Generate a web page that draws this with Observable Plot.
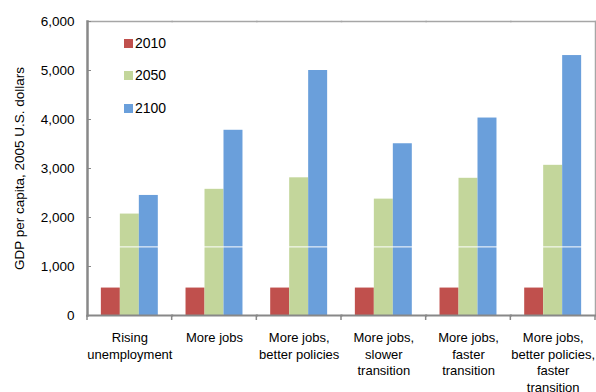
<!DOCTYPE html>
<html><head><meta charset="utf-8">
<script src="https://cdn.jsdelivr.net/npm/d3@7"></script>
<script src="https://cdn.jsdelivr.net/npm/@observablehq/plot@0.6"></script>
<style>
body{margin:0;background:#fff;font-family:"Liberation Sans",Arial,sans-serif;}
#wrap{position:relative;width:596px;height:392px;}
.leg{position:absolute;left:124px;font-size:14px;line-height:16px;color:#000;display:flex;align-items:center;}
.leg span.sw{display:inline-block;width:9px;height:9px;margin-right:2px;}
</style></head><body><div id="wrap"></div>
<script>
const scenarios = ["Rising\nunemployment","More jobs","More jobs,\nbetter policies","More jobs,\nslower\ntransition","More jobs,\nfaster\ntransition","More jobs,\nbetter policies,\nfaster\ntransition"];
const years = ["2010","2050","2100"];
const gdp2010 = [560,560,560,560,560,560];
const gdp2050 = [2070,2575,2810,2375,2800,3065];
const gdp2100 = [2450,3780,5000,3505,4030,5305];
const yTicks = [0,1000,2000,3000,4000,5000,6000];
const colors = ["#C0504D","#C3D69B","#6A9FDB"];
const yLabel = "GDP per capita, 2005 U.S. dollars";

const series = [gdp2010, gdp2050, gdp2100];
const data = [];
scenarios.forEach((s,i)=>years.forEach((y,j)=>data.push({scenario:s, year:y, value:series[j][i]})));

const plot = Plot.plot({
  width:596, height:392,
  marginLeft:87, marginRight:1, marginTop:21, marginBottom:77,
  style:{fontFamily:'"Liberation Sans",Arial,sans-serif', fontSize:"13px", background:"#fff", color:"#000"},
  fx:{domain:scenarios, padding:0, paddingInner:0, paddingOuter:0, round:false},
  x:{domain:years, paddingInner:0, paddingOuter:0.73, round:false, axis:null},
  y:{domain:[0,6000]},
  color:{domain:years, range:colors},
  marks:[
    Plot.barY(data,{fx:"scenario", x:"year", y:"value", fill:"year", inset:0}),
    Plot.ruleY([1400],{stroke:"#fff", strokeWidth:1}),
    Plot.frame({anchor:"top", stroke:"#a6a6a6", strokeWidth:1.5}),
    Plot.frame({anchor:"right", facetAnchor:"right", stroke:"#a6a6a6", strokeWidth:1.5}),
    Plot.frame({anchor:"bottom", stroke:"#888", strokeWidth:2}),
    Plot.frame({anchor:"left", facetAnchor:"left", stroke:"#888", strokeWidth:2.5}),
    Plot.axisY({ticks:yTicks, tickFormat:d3.format(","), tickSize:-4, tickPadding:17, stroke:"#888", fontSize:13.5,
      label:yLabel, labelArrow:false, labelAnchor:"center", labelOffset:73}),
    Plot.axisFx({anchor:"bottom", tickSize:0, tickPadding:15, lineHeight:1.27, fontSize:13, label:null})
  ]
});
document.getElementById("wrap").appendChild(plot);

// boundary ticks on the category axis
const fx = plot.scale("fx"), ys = plot.scale("y");
const bounds = scenarios.map(s=>fx.apply(s)).concat([fx.apply(scenarios[scenarios.length-1])+fx.bandwidth]);
const y0 = ys.apply(0);
d3.select(plot).append("g").selectAll("line").data(bounds).join("line")
  .attr("x1",d=>d).attr("x2",d=>d).attr("y1",y0).attr("y2",y0+5)
  .attr("stroke","#888").attr("stroke-width",1.5);

// legend
const legY = [43,75,108];
years.forEach((y,i)=>{
  const d = document.createElement("div");
  d.className="leg";
  d.style.top=(legY[i]-8)+"px";
  d.innerHTML=`<span class="sw" style="background:${colors[i]}"></span>${y}`;
  document.getElementById("wrap").appendChild(d);
});
</script>
</body></html>
